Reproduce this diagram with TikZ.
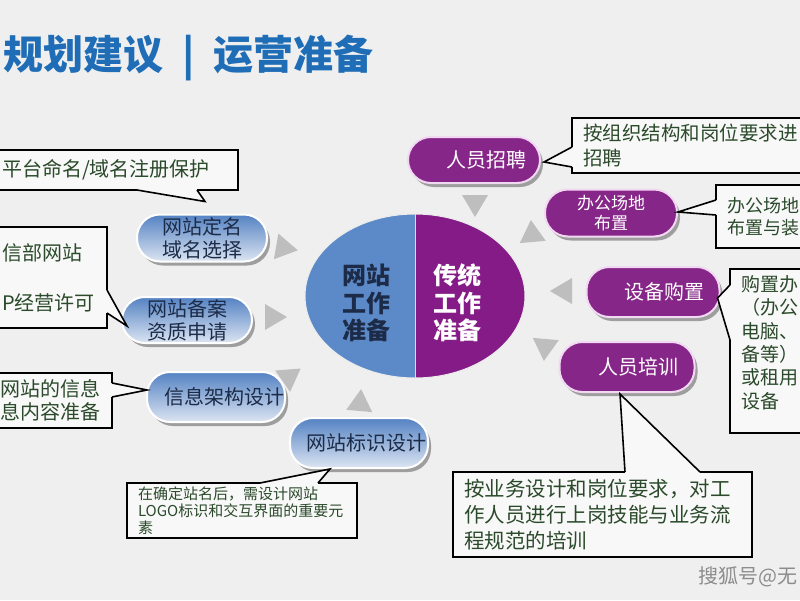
\documentclass[tikz,border=0pt]{standalone}
\usepackage{fontspec}
\setmainfont{Noto Sans CJK SC}
\usepackage{tikz}
\usetikzlibrary{calc, shapes.geometric, shadows}
\definecolor{paper}{HTML}{EFEFEF}
\definecolor{titleblue}{HTML}{1F6DB6}
\definecolor{pillnavy}{HTML}{1C2B47}
\definecolor{pilltop}{HTML}{5482C3}
\definecolor{pillbot}{HTML}{DCE5F2}
\definecolor{plum}{HTML}{862688}
\definecolor{plumrim}{HTML}{F2D9F2}
\definecolor{notegreen}{HTML}{2B4A2B}
\definecolor{notefill}{HTML}{F8F8F8}
\definecolor{trigray}{HTML}{BEBEBE}
\definecolor{coreblue}{HTML}{5C89C7}
\definecolor{coreplum}{HTML}{841B87}
\tikzset{
	pill/.style={rectangle, rounded corners=23pt, inner sep=0pt, line width=2pt, align=center,
		font=\fontsize{20}{23}\selectfont,
		drop shadow={shadow xshift=3pt, shadow yshift=-4pt, fill=black!38, opacity=1}},
	bluepill/.style={pill, draw=white, top color=pilltop, bottom color=pillbot, text=pillnavy},
	plumpill/.style={pill, draw=plumrim, fill=plum, text=white}
}
\tikzset{
	note/.style={draw=black, line width=1.6pt, fill=notefill, text=notegreen, align=left,
		anchor=north west, inner xsep=11pt, inner ysep=0pt, outer sep=0pt,
		font=\fontsize{20}{25}\selectfont},
	noteline/.style={draw=black, line width=1.6pt, line join=miter},
	coretext/.style={align=center, font=\fontsize{24}{27.5}\selectfont\bfseries}
}
\newcommand{\notetip}[3]{%
  \fill[notefill] #1 -- #2 -- #3 -- cycle;
  \draw[notefill, line width=2.6pt] #1 -- #3;
  \draw[noteline] #1 -- #2 -- #3;}

\begin{document}
\begin{tikzpicture}[x=1pt, y=-1pt]
      \useasboundingbox (0,0) rectangle (800,600);
      \clip (0,0) rectangle (800,600);
      \fill[paper] (0,0) rectangle (800,600);
      \node[anchor=west, inner sep=0pt, text=titleblue, font=\fontsize{40}{40}\selectfont\bfseries]
        (title) at (3,58) {规划建议\hspace{19pt}|\hspace{19pt}运营准备};
      \foreach \x/\y/\a in {285/248/-10, 274/317/0, 290/376/35, 360/402/85,
        475/204/-90, 532/233/95, 563/291/180, 545/348/-95}
        \fill[trigray, shift={(\x,\y)}, rotate=\a] (13,0) -- (-9,13) -- (-9,-13) -- cycle;
      \node[note, text width=225pt, minimum height=40pt] (nameNote) at (-9,150) {平台命名/域名注册保护};
      \node[note, text width=94pt, minimum height=101pt, font=\fontsize{20}{24}\selectfont]
        (icpNote) at (-9,227) {信部网站\\[26pt]P经营许可};
      \node[note, text width=101pt, minimum height=55pt, font=\fontsize{20}{23}\selectfont]
        (infoNote) at (-11,373) {网站的信息\\息内容准备};
      \node[note, text width=208pt, minimum height=55pt, font=\fontsize{15}{17}\selectfont]
        (logoNote) at (127,483) {在确定站名后，需设计网站\\LOGO标识和交互界面的重要元\\素};
      \node[note, text width=240pt, minimum height=55pt, font=\fontsize{19.5}{25}\selectfont]
        (hireNote) at (572,118) {按组织结构和岗位要求进\\招聘};
      \node[note, text width=150pt, minimum height=63pt, font=\fontsize{18}{22}\selectfont]
        (officeNote) at (716,185) {办公场地\\布置与装};
      \node[note, text width=150pt, minimum height=164pt, font=\fontsize{19}{23.4}\selectfont]
        (buyNote) at (730,269) {购置办\\（办公\\电脑、\\备等）\\或租用\\设备\\[-5pt]\mbox{}};
      \node[note, text width=277pt, minimum height=85pt, font=\fontsize{20.5}{26}\selectfont]
        (trainNote) at (453,472) {按业务设计和岗位要求，对工\\作人员进行上岗技能与业务流\\程规范的培训};
      \node[bluepill, minimum width=130pt, minimum height=47pt] (p1) at (202,238) {网站定名\\域名选择};
      \node[bluepill, minimum width=130pt, minimum height=46pt] (p2) at (187,320) {网站备案\\资质申请};
      \node[bluepill, minimum width=138pt, minimum height=50pt] (p3) at (216,397) {\hspace*{16pt}信息架构设计};
      \node[bluepill, minimum width=138pt, minimum height=50pt] (p4) at (359,443) {\hspace*{14pt}网站标识设计};
      \node[plumpill, minimum width=132pt, minimum height=46pt] (q1) at (474,160) {\hspace*{24pt}人员招聘};
      \node[plumpill, minimum width=132pt, minimum height=47pt, font=\fontsize{17}{20}\selectfont]
        (q2) at (611,213) {办公场地\\布置};
      \node[plumpill, minimum width=133pt, minimum height=50pt] (q3) at (653,292) {\hspace*{22pt}设备购置};
      \node[plumpill, minimum width=135pt, minimum height=50pt] (q4) at (627,367) {\hspace*{22pt}人员培训};
      \notetip{($(nameNote.south west)+(146,0)$)}{($(p1.north)+(3,-12)$)}{($(nameNote.south west)+(206,0)$)}
      \notetip{($(icpNote.north east)+(0,63)$)}{($(p2.west)+(6,6)$)}{($(icpNote.north east)+(0,86)$)}
      \notetip{($(infoNote.north east)+(0,10)$)}{($(p3.west)+(1,-7)$)}{($(infoNote.north east)+(0,24)$)}
      \notetip{($(logoNote.north west)+(133,0)$)}{($(p4.south)+(-29,0)$)}{($(logoNote.north west)+(191,0)$)}
      \notetip{($(hireNote.north west)+(0,29)$)}{($(q1.east)+(3,2)$)}{($(hireNote.north west)+(0,49)$)}
      \notetip{($(officeNote.north west)+(0,15)$)}{($(q2.east)+(0,-1)$)}{($(officeNote.north west)+(0,30)$)}
      \notetip{($(buyNote.north west)+(0,16)$)}{($(q3.east)+(-3,6)$)}{($(buyNote.north west)+(0,71)$)}
      \notetip{($(trainNote.north west)+(172,0)$)}{($(q4.south)+(-7,1)$)}{($(trainNote.north west)+(247,0)$)}
      \node[ellipse, minimum width=220pt, minimum height=164pt, inner sep=0pt] (core) at (415,296) {};
      \begin{scope}
        \clip (core.center) ellipse [x radius=110pt, y radius=82pt];
        \fill[coreblue] ($(core.north)+(-112,-2)$) rectangle ($(core.south)+(0,2)$);
        \fill[coreplum] ($(core.north)+(0,-2)$) rectangle ($(core.south)+(112,2)$);
      \end{scope}
      \draw[white!85!gray, line width=1pt] (core.center) ellipse [x radius=110pt, y radius=82pt];
      \draw[white!80!plum, line width=1pt] (core.north) -- (core.south);
      \node[coretext, text=pillnavy] (webPrep) at (366,303) {网站\\工作\\准备};
      \node[coretext, text=white] (tradPrep) at (457,303) {传统\\工作\\准备};
      \node[anchor=west, text=black!45, font=\fontsize{20}{20}\selectfont] (mark) at (695,577) {搜狐号@无};
\end{tikzpicture}
\end{document}
